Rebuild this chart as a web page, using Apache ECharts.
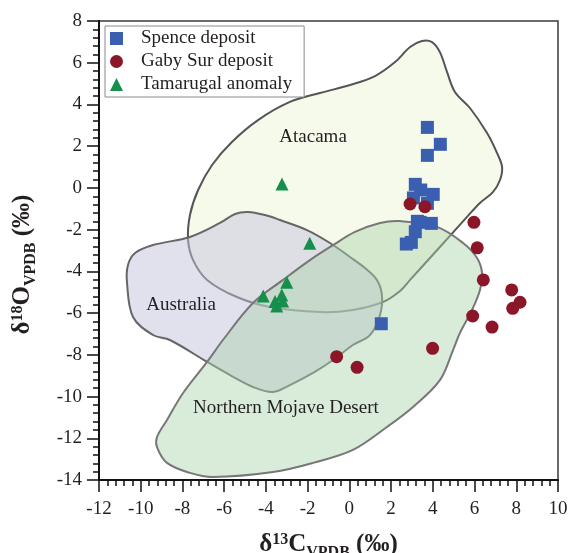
<!DOCTYPE html>
<html>
<head>
<meta charset="utf-8">
<script src="https://cdn.jsdelivr.net/npm/echarts@6/dist/echarts.min.js"></script>
<style>
  html, body { margin: 0; padding: 0; background: #fff; }
  #chart { width: 571px; height: 553px; }
</style>
</head>
<body>
<div id="chart"></div>
<script>
// Isotope compositions: [δ13C, δ18O] in ‰ VPDB
const spence = [
  [3.74, 2.90], [4.36, 2.09], [3.74, 1.56], [3.16, 0.17], [3.42, -0.10],
  [4.02, -0.31], [3.07, -0.48], [3.74, -0.74], [3.26, -1.60], [3.39, -1.65],
  [3.93, -1.70], [3.16, -2.10], [2.97, -2.61], [2.73, -2.69], [1.53, -6.51]
];
const gabySur = [
  [2.91, -0.77], [3.62, -0.90], [5.97, -1.65], [6.13, -2.87], [6.42, -4.41],
  [7.78, -4.89], [8.18, -5.48], [7.83, -5.77], [5.91, -6.14], [6.84, -6.67],
  [3.99, -7.69], [-0.61, -8.09], [0.37, -8.60]
];
const tamarugal = [
  [-3.23, 0.19], [-1.90, -2.65], [-3.00, -4.52], [-4.13, -5.18], [-3.24, -5.13],
  [-3.56, -5.45], [-3.20, -5.42], [-3.48, -5.66]
];

// Reference fields (outlines in δ13C / δ18O space)
const atacamaField = [
  [-7.73, -2.50], [-7.64, -1.30], [-7.25, -0.10], [-6.58, 1.10], [-5.63, 2.20],
  [-4.38, 3.25], [-2.85, 4.12], [-1.41, 4.55], [0.03, 4.93], [1.23, 5.36],
  [2.19, 6.03], [2.91, 6.75], [3.48, 7.04], [3.96, 6.99], [4.34, 6.51],
  [4.68, 5.56], [5.06, 4.60], [5.78, 3.83], [6.60, 2.63], [7.08, 1.67],
  [7.32, 1.00], [7.22, 0.38], [6.88, -0.20], [6.26, -0.72], [5.64, -1.39],
  [4.82, -2.30], [3.86, -3.36], [2.91, -4.41], [2.43, -4.94], [1.61, -5.47],
  [0.17, -5.85], [-1.41, -5.95], [-3.80, -5.71], [-5.39, -5.23], [-6.82, -4.41],
  [-7.49, -3.46]
];
const australiaField = [
  [-10.66, -4.51], [-10.61, -3.69], [-10.27, -3.12], [-9.41, -2.74], [-7.64, -2.35],
  [-6.20, -1.68], [-5.48, -1.25], [-4.86, -1.15], [-4.04, -1.30], [-3.32, -1.54],
  [-2.03, -2.02], [-0.93, -2.64], [0.03, -3.31], [0.75, -3.84], [1.32, -4.41],
  [1.56, -5.13], [1.47, -6.09], [0.99, -7.05], [0.17, -7.53], [-0.78, -8.25],
  [-1.74, -8.87], [-2.85, -9.45], [-3.66, -9.78], [-4.62, -9.54], [-5.72, -8.97],
  [-6.82, -8.34], [-8.60, -7.29], [-9.41, -7.05], [-10.37, -6.19]
];
const mojaveField = [
  [1.47, -1.68], [2.43, -1.59], [4.20, -1.87], [5.45, -2.64], [6.12, -3.36],
  [6.36, -4.08], [6.26, -4.89], [5.88, -5.85], [5.30, -6.95], [4.97, -7.77],
  [4.34, -9.21], [3.05, -10.50], [1.80, -11.46], [0.17, -12.56], [-1.74, -13.18],
  [-3.66, -13.62], [-6.54, -13.86], [-7.64, -13.66], [-8.74, -13.18], [-9.22, -12.42],
  [-9.22, -11.94], [-8.74, -11.12], [-7.97, -9.83], [-6.82, -8.34], [-6.06, -7.29],
  [-4.62, -5.52], [-3.18, -4.41], [-1.89, -3.46], [-0.78, -2.74], [0.27, -2.11]
];

const fieldNames = ['Atacama', 'Australia', 'Northern Mojave Desert'];
const fieldLabelPos = [[-1.74, 2.44], [-8.07, -5.61], [-3.04, -10.55]];

const xTicks = { min: -12, max: 10, interval: 2 };
const yTicks = { min: -14, max: 8, interval: 2 };

const SERIF = '"Liberation Serif", "Times New Roman", serif';
const INK = '#231f20';

function fieldSeries(name, pts, fill, stroke, z) {
  return {
    name: name,
    type: 'custom',
    coordinateSystem: 'cartesian2d',
    data: [0],
    z: z,
    silent: true,
    renderItem: function (params, api) {
      return {
        type: 'polygon',
        shape: { points: pts.map(p => api.coord(p)), smooth: 0.35 },
        style: { fill: fill, stroke: stroke, lineWidth: 2 }
      };
    }
  };
}

const chart = echarts.init(document.getElementById('chart'), null, { renderer: 'canvas' });

const axisNameRich = {
  m: { fontFamily: SERIF, fontWeight: 'bold', fontSize: 25, color: INK, lineHeight: 32, verticalAlign: 'middle' },
  sup: { fontFamily: SERIF, fontWeight: 'bold', fontSize: 16, color: INK, lineHeight: 32, verticalAlign: 'top', padding: [3, 0, 0, 0] },
  sub: { fontFamily: SERIF, fontWeight: 'bold', fontSize: 16, color: INK, lineHeight: 32, verticalAlign: 'bottom' }
};

const axisCommon = {
  axisLine: { show: true, onZero: false, lineStyle: { color: '#111', width: 2 } },
  axisTick: { show: true, inside: false, length: 12, lineStyle: { color: '#111', width: 1.5 } },
  minorTick: { show: true, splitNumber: 5, length: 6, lineStyle: { color: '#111', width: 1.5 } },
  splitLine: { show: false },
  axisLabel: { fontFamily: SERIF, fontSize: 19, color: INK }
};

chart.setOption({
  animation: false,
  backgroundColor: '#fff',
  grid: {
    left: 99, right: 13, top: 21, bottom: 73,
    containLabel: false, outerBoundsMode: 'none',
    show: true, borderColor: '#3a3a3a', borderWidth: 1.5, backgroundColor: 'transparent'
  },
  legend: {
    left: 105, top: 26,
    orient: 'vertical',
    data: ['Spence deposit', 'Gaby Sur deposit', 'Tamarugal anomaly'],
    itemWidth: 13, itemHeight: 13, itemGap: 0,
    padding: [1, 12, 1, 5],
    borderColor: '#8a8a8a', borderWidth: 1,
    backgroundColor: '#fff',
    textStyle: { fontFamily: SERIF, fontSize: 19, color: INK, lineHeight: 23, height: 23, padding: [0, 0, 0, 13] }
  },
  xAxis: Object.assign({}, axisCommon, {
    type: 'value', min: xTicks.min, max: xTicks.max, interval: xTicks.interval,
    axisLabel: Object.assign({}, axisCommon.axisLabel, { margin: 20 }),
    name: '{m|δ}{sup|13}{m|C}{sub|VPDB}{m| (‰)}',
    nameLocation: 'middle', nameGap: 49,
    nameTextStyle: { rich: axisNameRich }
  }),
  yAxis: Object.assign({}, axisCommon, {
    type: 'value', min: yTicks.min, max: yTicks.max, interval: yTicks.interval,
    axisLabel: Object.assign({}, axisCommon.axisLabel, { margin: 17 }),
    name: '{m|δ}{sup|18}{m|O}{sub|VPDB}{m| (‰)}',
    nameLocation: 'middle', nameGap: 60,
    nameTextStyle: { rich: axisNameRich, padding: [0, 28, 0, 0] }
  }),
  series: [
    fieldSeries('Atacama field', atacamaField, 'rgba(238,245,218,0.55)', '#555', 1),
    fieldSeries('Australia field', australiaField, 'rgba(195,195,222,0.5)', '#666', 2),
    fieldSeries('Mojave field', mojaveField, 'rgba(170,210,170,0.45)', '#777', 3),
    {
      type: 'custom',
      coordinateSystem: 'cartesian2d',
      data: fieldLabelPos,
      z: 4,
      silent: true,
      renderItem: function (params, api) {
        const c = api.coord([api.value(0), api.value(1)]);
        return {
          type: 'text',
          style: {
            x: c[0], y: c[1], text: fieldNames[params.dataIndex],
            fill: INK, font: '19px ' + SERIF, align: 'center', verticalAlign: 'middle'
          }
        };
      }
    },
    {
      name: 'Spence deposit', type: 'scatter', data: spence, z: 6,
      symbol: 'rect', symbolSize: 13, itemStyle: { color: '#3a5fb0', opacity: 1 }
    },
    {
      name: 'Gaby Sur deposit', type: 'scatter', data: gabySur, z: 7,
      symbol: 'circle', symbolSize: 13, itemStyle: { color: '#8a1628', opacity: 1 }
    },
    {
      name: 'Tamarugal anomaly', type: 'scatter', data: tamarugal, z: 5,
      symbol: 'triangle', symbolSize: 13, itemStyle: { color: '#178f4c', opacity: 1 }
    }
  ]
});
</script>
</body>
</html>
